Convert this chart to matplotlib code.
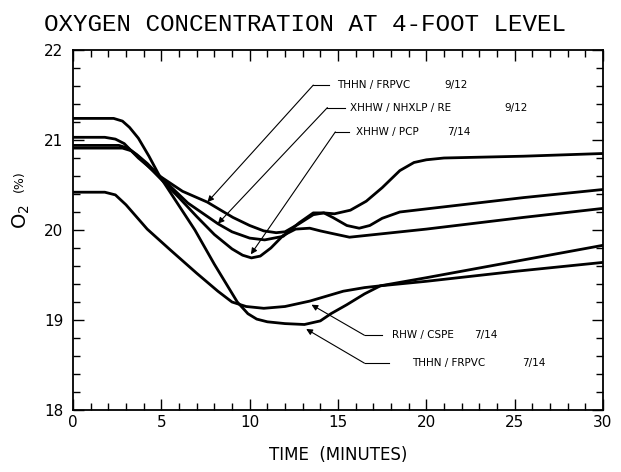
import numpy as np
import matplotlib
matplotlib.use('Agg')
import matplotlib.pyplot as plt

# time (min) / O2 (%)
thhn_714_t = [0, 2.3, 2.8, 3.2, 3.7, 4.3, 4.9, 5.9, 6.9, 8.0, 9.3, 9.9, 10.4, 11.0, 12.0, 13.1, 14.0, 14.6, 15.5, 16.5, 17.4, 20, 25, 30]
thhn_714_o2 = [21.24, 21.24, 21.21, 21.14, 21.02, 20.82, 20.6, 20.3, 20.0, 19.62, 19.2, 19.07, 19.01, 18.98, 18.96, 18.95, 18.99, 19.07, 19.17, 19.29, 19.38, 19.47, 19.65, 19.83]

rhw_t = [0, 1.8, 2.4, 3.0, 4.2, 5.5, 7.0, 8.2, 9.0, 9.8, 10.8, 12.0, 13.4, 15.3, 16.5, 17.4, 20, 25, 30]
rhw_o2 = [20.42, 20.42, 20.39, 20.28, 20.01, 19.78, 19.52, 19.32, 19.2, 19.15, 19.13, 19.15, 19.21, 19.32, 19.36, 19.38, 19.43, 19.54, 19.64]

thhn_912_t = [0, 1.8, 2.4, 2.9, 3.7, 4.9, 6.2, 7.6, 9.05, 10.0, 10.8, 11.5, 12.0, 12.8, 13.6, 14.2, 14.8, 15.7, 16.6, 17.5, 18.5, 19.3, 20.0, 21.0, 25.5, 30]
thhn_912_o2 = [21.03, 21.03, 21.01, 20.96, 20.80, 20.60, 20.43, 20.31, 20.14, 20.05, 19.99, 19.97, 19.98, 20.07, 20.17, 20.19, 20.18, 20.22, 20.32, 20.47, 20.66, 20.75, 20.78, 20.80, 20.82, 20.85]

xhhw_re_t = [0, 2.6, 3.1, 3.6, 4.2, 4.9, 6.5, 8.2, 9.0, 10.0, 10.85, 11.9, 12.8, 13.6, 14.2, 14.7, 15.5, 16.2, 16.8, 17.5, 18.5, 25.5, 30]
xhhw_re_o2 = [20.94, 20.94, 20.91, 20.84, 20.74, 20.6, 20.3, 20.07, 19.98, 19.91, 19.89, 19.93, 20.08, 20.19, 20.19, 20.14, 20.05, 20.02, 20.05, 20.13, 20.2, 20.36, 20.45]

xhhw_pcp_t = [0, 2.8, 3.3, 3.8, 4.3, 4.9, 6.0, 7.0, 8.0, 9.0, 9.6, 10.1, 10.6, 11.2, 11.9, 12.6, 13.4, 14.0, 14.7, 15.65, 20, 25.5, 30]
xhhw_pcp_o2 = [20.91, 20.91, 20.88, 20.8, 20.7, 20.58, 20.36, 20.15, 19.95, 19.79, 19.72, 19.69, 19.71, 19.8, 19.94, 20.01, 20.02, 19.99, 19.96, 19.92, 20.01, 20.14, 20.24]

labels = ['THHN / FRPVC', 'XHHW / NHXLP / RE', 'XHHW / PCP', 'RHW / CSPE', 'THHN / FRPVC']
dates = ['9/12', '9/12', '7/14', '7/14', '7/14']

fig = plt.figure(figsize=(6.21, 4.72), dpi=100)
ax = fig.add_axes([73/621, 1-410/472, 530/621, 360/472])

for t, o2 in [(thhn_714_t, thhn_714_o2), (rhw_t, rhw_o2), (thhn_912_t, thhn_912_o2),
              (xhhw_re_t, xhhw_re_o2), (xhhw_pcp_t, xhhw_pcp_o2)]:
    ax.plot(t, o2, color='black', lw=2.0, solid_joinstyle='round', solid_capstyle='round')

ax.set_xlim(0, 30)
ax.set_ylim(18, 22)
ax.set_xticks(np.arange(0, 31, 5))
ax.set_xticks(np.arange(0, 31, 1), minor=True)
ax.set_yticks([18, 19, 20, 21, 22])
ax.set_yticks(np.arange(18, 22.01, 0.2), minor=True)
ax.tick_params(which='both', direction='in', top=True, right=True, width=1.0, labelsize=11)
ax.tick_params(which='major', length=8)
ax.tick_params(which='minor', length=5)
ax.tick_params(axis='y', pad=7)
for s in ax.spines.values():
    s.set_linewidth(1.3)

# leaders: (arrow head, corner, end of horizontal run, text x, date x)
leaders = [
    ((7.61, 20.31), (13.6, 21.61), 14.5, 14.96, 21.0),
    ((8.2, 20.07), (14.4, 21.36), 15.4, 15.7, 24.4),
    ((10.07, 19.73), (14.85, 21.09), 15.6, 16.0, 21.2),
    ((13.5, 19.17), (16.5, 18.83), 17.5, 18.05, 22.7),
    ((13.2, 18.9), (16.5, 18.52), 17.9, 19.2, 25.4),
]
for (head, corner, run, tx, dx), lab, d in zip(leaders, labels, dates):
    ax.annotate('', xy=head, xytext=corner,
                arrowprops=dict(arrowstyle='-|>', color='black', lw=0.8,
                                mutation_scale=9, shrinkA=0, shrinkB=0))
    ax.plot([corner[0], run], [corner[1], corner[1]], color='black', lw=0.8)
    ax.text(tx, corner[1], lab, fontsize=7.5, va='center', ha='left')
    ax.text(dx, corner[1], d, fontsize=7.5, va='center', ha='left')

fig.text(44/621, 1-31/472, 'OXYGEN CONCENTRATION AT 4-FOOT LEVEL',
         family='Liberation Mono', fontsize=17.5, ha='left', va='baseline')
fig.text(338/621, 1-455/472, 'TIME  (MINUTES)', fontsize=12, ha='center', va='center')
fig.text(21/621, 1-217/472, 'O$_2$', fontsize=14, rotation=90, ha='center', va='center')
fig.text(19/621, 1-181/472, '(%)', fontsize=9, rotation=90, ha='center', va='center')

fig.savefig('out.png', dpi=100)
